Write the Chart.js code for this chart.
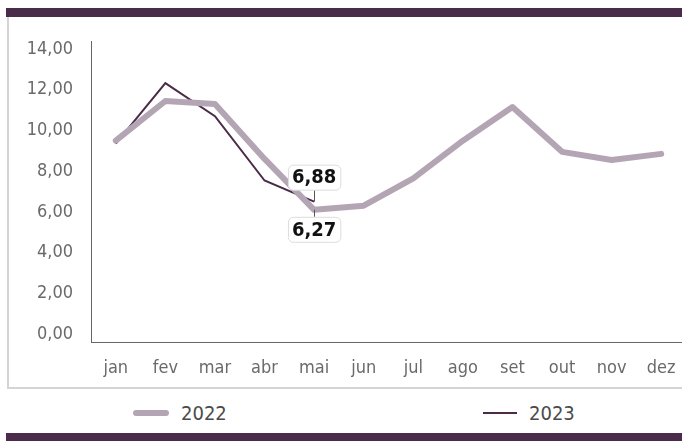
<!DOCTYPE html>
<html>
<head>
<meta charset="utf-8">
<script src="https://cdn.jsdelivr.net/npm/chart.js@4.4.0/dist/chart.umd.min.js"></script>
<style>
  html, body { margin: 0; padding: 0; background: #fff; }
  body { width: 682px; height: 441px; position: relative; overflow: hidden;
         font-family: 'DejaVu Sans Condensed', sans-serif; }
  .bar { position: absolute; left: 6px; right: 0; background: #4a2b49; }
  #topbar { top: 8px; height: 9px; }
  #botbar { top: 433px; height: 8px; left: 6px; }
  #frameL { position: absolute; left: 7px; top: 17px; width: 2px; height: 372px; background: #d4d4d4; }
  #frameB { position: absolute; left: 7px; right: 0; top: 387px; height: 2px; background: #d4d4d4; }
  #wrap { position: absolute; left: 10px; top: 17px; width: 676px; height: 369px; }
  .leg { position: absolute; top: 401px; height: 24px; display: flex; align-items: center; color: #4a4a4a; font-size: 20px; }
  .leg i { display: inline-block; margin-right: 12px; border-radius: 4px; }
</style>
</head>
<body>
<div id="topbar" class="bar"></div>
<div id="frameL"></div>
<div id="frameB"></div>
<div id="wrap"><canvas id="c" width="676" height="369"></canvas></div>
<div class="leg" style="left:133px"><i style="width:36px;height:6px;background:#b4a5b4"></i>2022</div>
<div class="leg" style="left:483px"><i style="width:34px;height:2px;background:#4a2b49;border-radius:0"></i>2023</div>
<div id="botbar" class="bar"></div>
<script>
const months = ["jan", "fev", "mar", "abr", "mai", "jun", "jul", "ago", "set", "out", "nov", "dez"];
const y2022 = [9.5, 11.45, 11.3, 8.6, 6.1, 6.3, 7.65, 9.5, 11.15, 8.95, 8.55, 8.85];
const y2023 = [9.35, 12.33, 10.7, 7.54, 6.5, null, null, null, null, null, null, null];
const yTicks = [0, 2, 4, 6, 8, 10, 12, 14];
// callouts shown at mai: [dataset index, point index, text, above?]
const callouts = [[1, 4, "6,88", true], [0, 4, "6,27", false]];

const FONT = "'DejaVu Sans Condensed', sans-serif";

const calloutPlugin = {
  id: "callouts",
  afterDatasetsDraw(chart) {
    const ctx = chart.ctx;
    ctx.save();
    ctx.font = "bold 20px " + FONT;
    callouts.forEach(([ds, i, text, above]) => {
      const pt = chart.getDatasetMeta(ds).data[i];
      const w = ctx.measureText(text).width + 8, h = 25;
      const x = pt.x - w / 2;
      const y = above ? pt.y - 12 - h : pt.y + 7;
      ctx.strokeStyle = "#555";
      ctx.lineWidth = 1;
      ctx.beginPath();
      ctx.moveTo(Math.round(pt.x) + 0.5, above ? y + h : pt.y);
      ctx.lineTo(Math.round(pt.x) + 0.5, above ? pt.y : y);
      ctx.stroke();
      ctx.beginPath();
      ctx.roundRect(x + 0.5, y + 0.5, w, h, 5);
      ctx.fillStyle = "#fff";
      ctx.fill();
      ctx.strokeStyle = "#dcdcdc";
      ctx.stroke();
      ctx.fillStyle = "#111";
      ctx.textAlign = "center";
      ctx.textBaseline = "middle";
      ctx.fillText(text, pt.x, y + h / 2 + 1);
    });
    ctx.restore();
  }
};

new Chart(document.getElementById("c"), {
  type: "line",
  data: {
    labels: months,
    datasets: [
      { label: "2022", data: y2022, borderColor: "#b4a5b4", borderWidth: 6, pointRadius: 0,
        borderCapStyle: "round", borderJoinStyle: "round" },
      { label: "2023", data: y2023, borderColor: "#4a2b49", borderWidth: 2, pointRadius: 0 }
    ]
  },
  options: {
    responsive: false,
    animation: false,
    layout: { padding: { top: 24, right: 0, left: 0, bottom: 0 } },
    plugins: { legend: { display: false }, tooltip: { enabled: false } },
    scales: {
      x: {
        offset: true,
        grid: { display: false, drawTicks: false },
        border: { display: true, color: "#666", width: 1 },
        ticks: { color: "#6a6a6a", padding: 16, font: { family: FONT, size: 18 } },
        afterFit: s => { s.height = 44; s.paddingLeft = 0; s.paddingRight = 0; }
      },
      y: {
        min: -0.4, max: 14.4,
        grid: { display: false, drawTicks: false },
        border: { display: true, color: "#666", width: 1 },
        ticks: { color: "#6a6a6a", padding: 18, font: { family: FONT, size: 18 },
                 callback: v => v.toFixed(2).replace(".", ",") },
        afterBuildTicks: s => { s.ticks = yTicks.map(v => ({ value: v })); },
        afterFit: s => { s.width = 81; s.paddingTop = 0; s.paddingBottom = 0; }
      }
    }
  },
  plugins: [calloutPlugin]
});
</script>
</body>
</html>
